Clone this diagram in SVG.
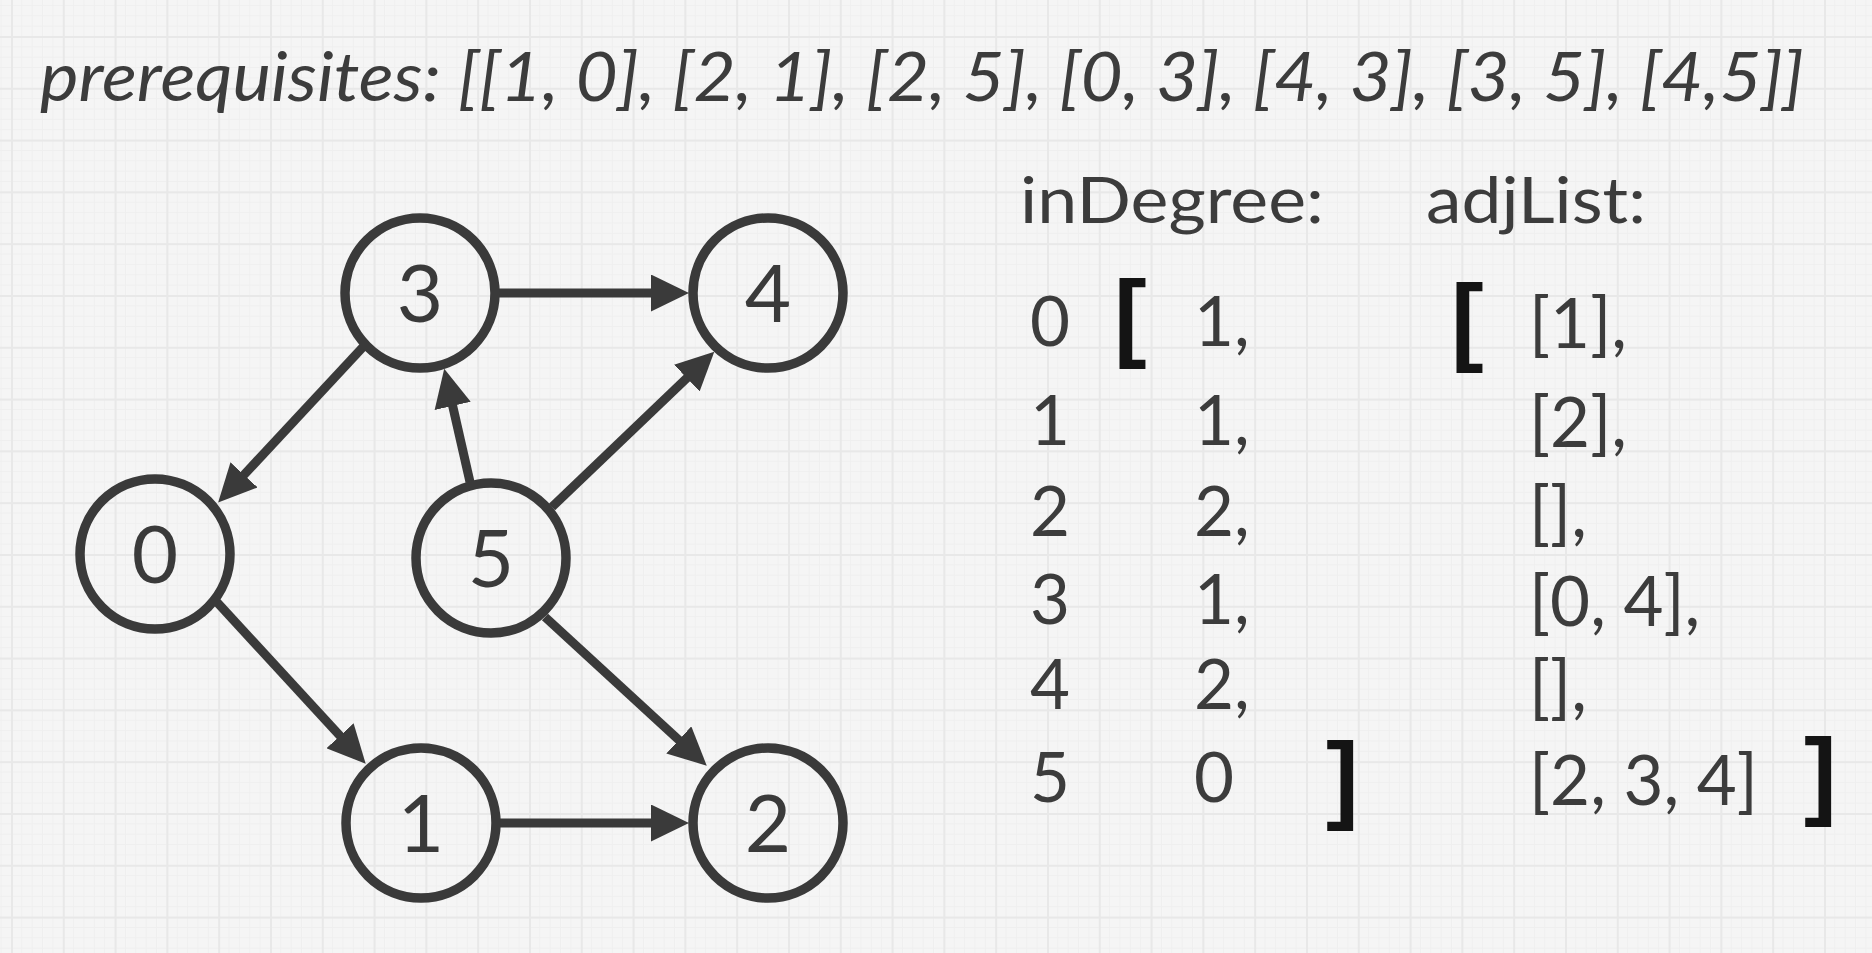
<svg xmlns="http://www.w3.org/2000/svg" width="1872" height="953" viewBox="0 0 1872 953">
  <style>
    .node circle { fill: none; stroke: #3a3a3a; stroke-width: 9.5; }
    .label { font-family: Lato, "Liberation Sans", sans-serif; font-weight: 400; font-size: 80px; fill: #3a3a3a; text-anchor: middle; }
    .edge { stroke: #3a3a3a; stroke-width: 9; fill: none; marker-end: url(#arrow); }
    .txt { font-family: Lato, "Liberation Sans", sans-serif; font-weight: 400; fill: #3c3c3c; }
    .hdr { font-size: 63px; }
    .row { font-size: 69px; }
    .idx { text-anchor: middle; }
    .brk { font-family: "Liberation Sans", Arial, sans-serif; font-weight: bold; font-size: 98px; fill: #141414; }
  </style>
  <defs>
    <pattern id="minor" width="10.36" height="10.36" patternUnits="userSpaceOnUse" x="11" y="36">
      <path d="M0 0.5 H10.36 M0.5 0 V10.36" stroke="#efefef" stroke-width="1" fill="none"/>
    </pattern>
    <pattern id="major" width="51.8" height="51.8" patternUnits="userSpaceOnUse" x="11" y="36">
      <path d="M0 1 H51.8 M1 0 V51.8" stroke="#e8e8e8" stroke-width="2" fill="none"/>
    </pattern>
    <marker id="arrow" markerUnits="userSpaceOnUse" markerWidth="38" markerHeight="37" viewBox="0 0 38 37" refX="3" refY="18.5" orient="auto">
      <path d="M0,0 L38,18.5 L0,37 z" fill="#3a3a3a"/>
    </marker>
  </defs>

  <rect width="1872" height="953" fill="#f5f5f5"/>
  <rect width="1872" height="953" fill="url(#minor)"/>
  <rect width="1872" height="953" fill="url(#major)"/>

  <text id="title" class="txt" x="40" y="101" font-size="67" font-style="italic" textLength="1764" lengthAdjust="spacingAndGlyphs">prerequisites: [[1, 0], [2, 1], [2, 5], [0, 3], [4, 3], [3, 5], [4,5]]</text>

  <g id="connectors">
    <path class="edge" d="M499,293 L654,293"/>
    <path class="edge" d="M499,823 L654,823"/>
    <path class="edge" d="M363,347 L242,477"/>
    <path class="edge" d="M470,482 L452,403"/>
    <path class="edge" d="M552,507 L689,376"/>
    <path class="edge" d="M215,600 L342,738"/>
    <path class="edge" d="M545,617 L681,742"/>
  </g>

  <g id="node-3" class="node"><circle cx="420" cy="293" r="75"/><text class="label" x="420" y="322">3</text></g>
  <g id="node-4" class="node"><circle cx="768" cy="293" r="75"/><text class="label" x="768" y="322">4</text></g>
  <g id="node-0" class="node"><circle cx="155" cy="554" r="75"/><text class="label" x="155" y="583">0</text></g>
  <g id="node-5" class="node"><circle cx="491" cy="558" r="75"/><text class="label" x="491" y="587">5</text></g>
  <g id="node-1" class="node"><circle cx="421" cy="823" r="75"/><text class="label" x="421" y="852">1</text></g>
  <g id="node-2" class="node"><circle cx="768" cy="823" r="75"/><text class="label" x="768" y="852">2</text></g>

  <g id="inDegree">
    <text class="txt hdr" x="1020" y="223" textLength="304" lengthAdjust="spacingAndGlyphs">inDegree:</text>
    <text class="brk" x="1114" y="349">[</text>
    <text class="brk" x="1326" y="811">]</text>
    <g class="txt row idx">
      <text x="1050" y="346">0</text>
      <text x="1050" y="445">1</text>
      <text x="1050" y="536">2</text>
      <text x="1050" y="624">3</text>
      <text x="1050" y="709">4</text>
      <text x="1050" y="802">5</text>
    </g>
    <g class="txt row">
      <text x="1194" y="346">1,</text>
      <text x="1194" y="445">1,</text>
      <text x="1194" y="536">2,</text>
      <text x="1194" y="624">1,</text>
      <text x="1194" y="709">2,</text>
      <text x="1194" y="802">0</text>
    </g>
  </g>

  <g id="adjList">
    <text class="txt hdr" x="1426" y="223" textLength="220" lengthAdjust="spacingAndGlyphs">adjList:</text>
    <text class="brk" x="1451" y="353">[</text>
    <text class="brk" x="1804" y="807">]</text>
    <g class="txt row">
      <text x="1529" y="348">[1],</text>
      <text x="1529" y="447">[2],</text>
      <text x="1529" y="537">[],</text>
      <text x="1529" y="626">[0, 4],</text>
      <text x="1529" y="711">[],</text>
      <text x="1529" y="805">[2, 3, 4]</text>
    </g>
  </g>
</svg>
